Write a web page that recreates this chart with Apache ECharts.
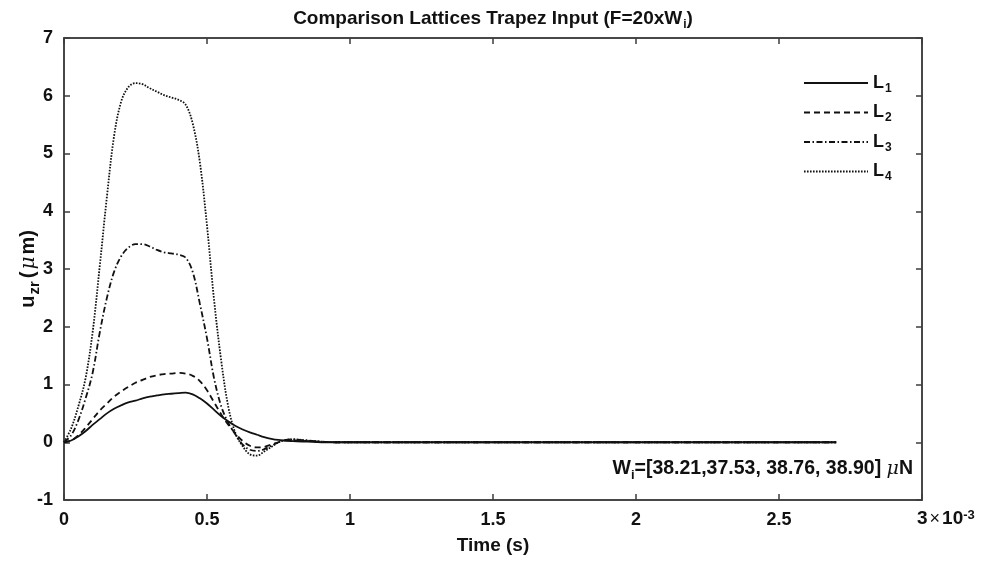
<!DOCTYPE html>
<html><head><meta charset="utf-8">
<script src="https://cdn.jsdelivr.net/npm/echarts@6/dist/echarts.min.js"></script>
<style>html,body{margin:0;padding:0;background:#fff}#c{width:986px;height:561px}</style>
</head><body><div id="c"></div>
<script>
// time in units of 1e-3 s
const timeMs = [0,0.025,0.05,0.075,0.1,0.125,0.15,0.175,0.2,0.225,0.25,0.275,0.3,0.325,0.35,0.375,0.4,0.425,0.45,0.475,0.5,0.525,0.55,0.575,0.6,0.625,0.65,0.675,0.7,0.725,0.75,0.775,0.8,0.85,0.9,0.95,1.0,1.2,1.5,2.0,2.5,2.7];
const L1 = [0,0.03,0.10,0.19,0.30,0.40,0.50,0.58,0.64,0.69,0.72,0.76,0.79,0.81,0.83,0.84,0.85,0.86,0.83,0.76,0.67,0.56,0.45,0.36,0.28,0.22,0.17,0.13,0.09,0.06,0.04,0.03,0.02,0.01,0.0,0,0,0,0,0,0,0];
const L2 = [0,0.03,0.12,0.25,0.40,0.55,0.67,0.79,0.88,0.96,1.03,1.08,1.13,1.16,1.18,1.19,1.20,1.19,1.15,1.06,0.90,0.69,0.48,0.30,0.15,0.02,-0.06,-0.09,-0.08,-0.04,0.0,0.03,0.03,0.02,0.01,0,0,0,0,0,0,0];
const L3 = [0,0.12,0.38,0.75,1.20,1.90,2.50,2.95,3.22,3.37,3.43,3.43,3.39,3.33,3.29,3.27,3.25,3.20,2.95,2.40,1.80,1.10,0.62,0.33,0.13,-0.04,-0.13,-0.15,-0.12,-0.06,0.0,0.04,0.05,0.03,0.01,0,0,0,0,0,0,0];
const L4 = [0,0.24,0.62,1.10,1.90,3.05,4.25,5.30,5.90,6.15,6.22,6.20,6.13,6.07,6.01,5.97,5.93,5.85,5.52,4.85,3.75,2.45,1.40,0.60,0.15,-0.07,-0.21,-0.23,-0.16,-0.08,0.0,0.04,0.05,0.03,0.01,0,0,0,0,0,0,0];
const seriesNames = ['L1','L2','L3','L4'];
const seriesValues = [L1, L2, L3, L4];
const titleParts = ['Comparison Lattices Trapez Input (F=20xW', 'i', ')'];
const annotation = ['W', 'i', '=[38.21,37.53, 38.76, 38.90] ', 'μ', 'N'];

const FONT = "'Liberation Sans', Arial, sans-serif";
const INK = '#111';
const AX = '#3c3c3c';
const dashTypes = ['solid', [6, 4], [6, 2.5, 1.5, 2.5], [1.6, 1.4]];

const chart = echarts.init(document.getElementById('c'), null, {renderer: 'canvas'});

const series = seriesNames.map((nm, k) => ({
  name: nm, type: 'line', xAxisIndex: 0, yAxisIndex: 0,
  data: timeMs.map((t, i) => [t, seriesValues[k][i]]),
  showSymbol: false, symbol: 'none', smooth: 0.35,
  lineStyle: {color: INK, width: 1.8, type: dashTypes[k]},
  itemStyle: {color: INK},
  animation: false, z: 3
}));

const tickLab = {fontFamily: FONT, fontWeight: 'bold', fontSize: 18, color: INK};

chart.setOption({
  animation: false,
  backgroundColor: '#fff',
  title: {
    text: '{b|' + titleParts[0] + '}{s|' + titleParts[1] + '}{b|' + titleParts[2] + '}',
    left: 'center', top: 1,
    textStyle: {
      rich: {
        b: {fontFamily: FONT, fontWeight: 'bold', fontSize: 19, color: INK, verticalAlign: 'middle'},
        s: {fontFamily: FONT, fontWeight: 'bold', fontSize: 12, color: INK, verticalAlign: 'bottom', padding: [13, 0, 0, 1]}
      }
    }
  },
  grid: {left: 64, right: 64, top: 38, bottom: 61, show: true, borderColor: AX, borderWidth: 1.5, containLabel: false, outerBoundsMode: 'none'},
  legend: {
    orient: 'vertical', left: 798, top: 69,
    itemWidth: 64, itemHeight: 14, itemGap: 9,
    data: seriesNames,
    itemStyle: {opacity: 0},
    formatter: n => '{n|L}{s|' + n.slice(1) + '}',
    textStyle: {
      rich: {
        n: {fontFamily: FONT, fontWeight: 'bold', fontSize: 18, color: INK, verticalAlign: 'middle'},
        s: {fontFamily: FONT, fontWeight: 'bold', fontSize: 12, color: INK, verticalAlign: 'bottom', padding: [11, 0, 0, 1]}
      }
    },
    selectedMode: false
  },
  xAxis: [{
    type: 'value', min: 0, max: 3, interval: 0.5,
    name: 'Time (s)', nameLocation: 'middle', nameGap: 36, nameMoveOverlap: false,
    nameTextStyle: {fontFamily: FONT, fontWeight: 'bold', fontSize: 19, color: INK},
    axisLine: {show: true, onZero: false, lineStyle: {color: AX, width: 1.5}},
    axisTick: {show: true, inside: true, length: 6, lineStyle: {color: AX, width: 1.5}},
    axisLabel: Object.assign({margin: 11, formatter: v => (Math.abs(v - 3) < 1e-9 ? '' : String(v))}, tickLab),
    splitLine: {show: false}
  }, {
    type: 'value', min: 0, max: 3, interval: 0.5, position: 'top',
    axisLine: {show: true, onZero: false, lineStyle: {color: AX, width: 1.5}},
    axisTick: {show: true, inside: true, length: 6, lineStyle: {color: AX, width: 1.5}},
    axisLabel: {show: false}, splitLine: {show: false}
  }],
  yAxis: [{
    type: 'value', min: -1, max: 7, interval: 1,
    name: '{b|u}{s|zr}{b|(}{m|μ}{b|m)}', nameLocation: 'middle', nameGap: 22, nameRotate: 90, nameMoveOverlap: false,
    nameTextStyle: {
      rich: {
        b: {fontFamily: FONT, fontWeight: 'bold', fontSize: 20, color: INK, verticalAlign: 'middle'},
        m: {fontFamily: "'DejaVu Serif', serif", fontStyle: 'italic', fontSize: 20, color: INK, verticalAlign: 'middle', padding: [0, 2, 0, 2]},
        s: {fontFamily: FONT, fontWeight: 'bold', fontSize: 15, color: INK, verticalAlign: 'bottom', padding: [12, 3, 0, 1]}
      }
    },
    axisLine: {show: true, onZero: false, lineStyle: {color: AX, width: 1.5}},
    axisTick: {show: true, inside: true, length: 6, lineStyle: {color: AX, width: 1.5}},
    axisLabel: Object.assign({margin: 11}, tickLab),
    splitLine: {show: false}
  }, {
    type: 'value', min: -1, max: 7, interval: 1, position: 'right',
    axisLine: {show: true, onZero: false, lineStyle: {color: AX, width: 1.5}},
    axisTick: {show: true, inside: true, length: 6, lineStyle: {color: AX, width: 1.5}},
    axisLabel: {show: false}, splitLine: {show: false}
  }],
  graphic: [{
    type: 'text', left: 917, top: 509, silent: true,
    style: {
      text: '{b|3}{x|×}{b|10}{p|-3}',
      rich: {
        b: {fontFamily: FONT, fontWeight: 'bold', fontSize: 19, fill: INK, verticalAlign: 'bottom'},
        x: {fontFamily: FONT, fontSize: 18, fill: INK, verticalAlign: 'bottom', padding: [0, 2, 0, 2]},
        p: {fontFamily: FONT, fontWeight: 'bold', fontSize: 13, fill: INK, verticalAlign: 'top'}
      }
    }
  }, {
    type: 'text', right: 73, top: 459, silent: true,
    style: {
      text: '{b|' + annotation[0] + '}{s|' + annotation[1] + '}{b|' + annotation[2] + '}{m|' + annotation[3] + '}{b|' + annotation[4] + '}',
      rich: {
        b: {fontFamily: FONT, fontWeight: 'bold', fontSize: 19.5, fill: INK, verticalAlign: 'middle'},
        m: {fontFamily: "'DejaVu Serif', serif", fontStyle: 'italic', fontSize: 19, fill: INK, verticalAlign: 'middle'},
        s: {fontFamily: FONT, fontWeight: 'bold', fontSize: 13, fill: INK, verticalAlign: 'bottom', padding: [12, 0, 0, 0]}
      }
    }
  }],
  series: series
});
</script>
</body></html>
